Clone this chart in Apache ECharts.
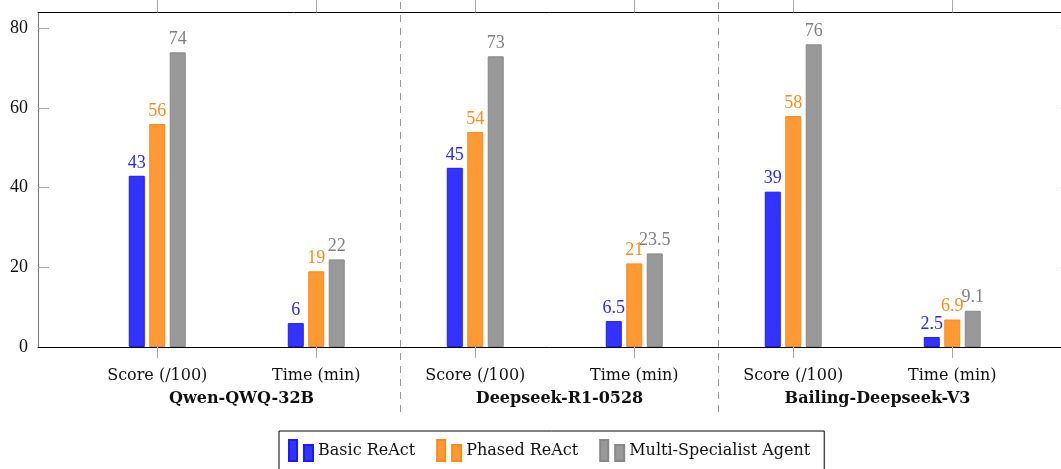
<!DOCTYPE html>
<html>
<head>
<meta charset="utf-8">
<script src="https://cdn.jsdelivr.net/npm/echarts@6/dist/echarts.min.js"></script>
<style>
  html, body { margin: 0; padding: 0; background: #fff; }
  #main { width: 1061px; height: 469px; }
</style>
</head>
<body>
<div id="main"></div>
<script>
// data
const categories = ["Score (/100)", "Time (min)", "Score (/100)", "Time (min)", "Score (/100)", "Time (min)"];
const groups = ["Qwen-QWQ-32B", "Deepseek-R1-0528", "Bailing-Deepseek-V3"];
const basicReact = [43, 6, 45, 6.5, 39, 2.5];
const phasedReact = [56, 19, 54, 21, 58, 6.9];
const multiAgent = [74, 22, 73, 23.5, 76, 9.1];
const yTicks = [0, 20, 40, 60, 80];

const xPos = categories.map((c, i) => i);
const groupPos = groups.map((g, i) => 0.53 + 2 * i);
const separators = [1.53, 3.53];

const numFont = "Liberation Serif";
const txtFont = "DejaVu Serif";

const legendIcon = "path://M0,0 L8,0 L8,21 L0,21 Z M15,5 L24,5 L24,21 L15,21 Z";

function barSeries(name, values, fill, border, labelColor) {
  return {
    name: name,
    type: "bar",
    xAxisIndex: 0,
    yAxisIndex: 0,
    barWidth: 16,
    barGap: "28%",
    data: values.map((v, i) => [xPos[i], v]),
    itemStyle: { color: fill, borderColor: border, borderWidth: 1 },
    label: {
      show: true,
      position: "top",
      distance: 4,
      color: labelColor,
      fontFamily: numFont,
      fontSize: 18,
      formatter: (p) => String(p.value[1]),
    },
  };
}

const myChart = echarts.init(document.getElementById("main"));

const option = {
  animation: false,
  grid: [
    { left: 38, top: 12.5, width: 1033.5, bottom: 122, outerBoundsMode: "none", containLabel: false },
    { left: 38, top: 0, width: 1033.5, bottom: 57, outerBoundsMode: "none", containLabel: false },
  ],
  legend: {
    left: 279,
    top: 431,
    padding: [8, 14, 8, 9],
    itemGap: 21,
    itemWidth: 24,
    itemHeight: 21,
    icon: legendIcon,
    borderColor: "#000",
    borderWidth: 1,
    textStyle: { fontFamily: txtFont, fontSize: 16, color: "#111" },
    data: ["Basic ReAct", "Phased ReAct", "Multi-Specialist Agent"],
  },
  xAxis: [
    {
      type: "value",
      gridIndex: 0,
      position: "bottom",
      min: -0.75,
      max: 5.75,
      splitLine: { show: false },
      axisLine: { show: true, onZero: false, lineStyle: { color: "#000", width: 1 } },
      axisTick: { show: true, inside: false, length: 11, customValues: xPos, lineStyle: { color: "#aaa" } },
      axisLabel: {
        customValues: xPos,
        margin: 21,
        fontFamily: txtFont,
        fontSize: 16,
        color: "#111",
        formatter: (v) => categories[Math.round(v)],
      },
    },
    {
      type: "value",
      gridIndex: 0,
      position: "top",
      min: -0.75,
      max: 5.75,
      splitLine: { show: false },
      axisLine: { show: true, onZero: false, lineStyle: { color: "#000", width: 1 } },
      axisTick: { show: true, inside: false, length: 13, customValues: xPos, lineStyle: { color: "#aaa" } },
      axisLabel: { show: false },
    },
    {
      type: "value",
      gridIndex: 0,
      position: "bottom",
      min: -0.75,
      max: 5.75,
      splitLine: { show: false },
      axisLine: { show: false, onZero: false },
      axisTick: { show: false },
      axisLabel: {
        customValues: groupPos,
        margin: 44,
        fontFamily: txtFont,
        fontSize: 16,
        fontWeight: "bold",
        color: "#111",
        formatter: (v) => groups[Math.round((v - 0.53) / 2)],
      },
    },
    {
      type: "value",
      gridIndex: 1,
      min: -0.75,
      max: 5.75,
      show: false,
    },
  ],
  yAxis: [
    {
      type: "value",
      gridIndex: 0,
      position: "left",
      min: 0,
      max: 84,
      splitLine: { show: false },
      axisLine: { show: true, onZero: false, lineStyle: { color: "#777", width: 1 } },
      axisTick: { show: true, inside: true, length: 11, customValues: yTicks.slice(1), lineStyle: { color: "#aaa" } },
      axisLabel: { customValues: yTicks, margin: 10, fontFamily: numFont, fontSize: 18, color: "#111" },
    },
    {
      type: "value",
      gridIndex: 0,
      position: "right",
      min: 0,
      max: 84,
      splitLine: { show: false },
      axisLine: { show: true, onZero: false, lineStyle: { color: "#777", width: 1 } },
      axisTick: { show: true, inside: true, length: 11, customValues: yTicks.slice(1), lineStyle: { color: "#aaa" } },
      axisLabel: { show: false },
    },
    {
      type: "value",
      gridIndex: 1,
      min: 0,
      max: 1,
      show: false,
    },
  ],
  series: [
    barSeries("Basic ReAct", basicReact, "#3333ff", "#1a1aff", "#2a2aff"),
    barSeries("Phased ReAct", phasedReact, "#ff9933", "#ff8a1a", "#ff8c1a"),
    barSeries("Multi-Specialist Agent", multiAgent, "#999999", "#888888", "#808080"),
    {
      type: "line",
      xAxisIndex: 3,
      yAxisIndex: 2,
      data: [],
      silent: true,
      markLine: {
        silent: true,
        symbol: "none",
        label: { show: false },
        lineStyle: { color: "#999", width: 1, type: [7, 6] },
        data: separators.map((s) => ({ xAxis: s })),
      },
    },
  ],
};

option && myChart.setOption(option);
</script>
</body>
</html>
